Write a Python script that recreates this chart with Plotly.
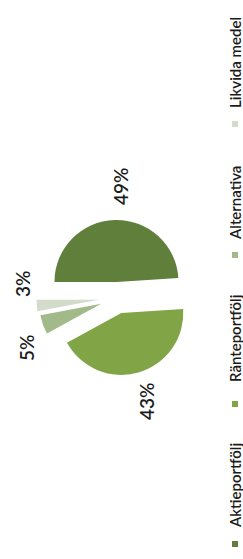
import plotly.graph_objects as go

# ---- data ----
categories = ["Aktieportfölj", "Ränteportfölj", "Alternativa", "Likvida medel"]
values = [49, 43, 5, 3]
pct_labels = [f"{v}%" for v in values]

# ---- styling ----
colors = ["#5f7f3b", "#80a446", "#a2b98a", "#d3dccb"]
pulls = [0.26, 0.25, 0.27, 0.30]

W, H = 243, 559
CX, CY, R = 117, 298, 62
half = R * (1 + max(pulls))


def px(x):
    return x / W


def py(y):
    return 1 - y / H


fig = go.Figure()
fig.add_trace(go.Pie(
    labels=categories,
    values=values,
    sort=False,
    direction="clockwise",
    rotation=270,
    pull=pulls,
    marker=dict(colors=colors, line=dict(width=0)),
    textinfo="none",
    hoverinfo="label+percent",
    showlegend=False,
    domain=dict(x=[px(CX - half), px(CX + half)], y=[py(CY + half), py(CY - half)]),
))

# percent labels (rotated, as in the picture)
label_pos = [(120, 187), (146, 402), (26, 348), (22, 284)]
for (x, y), t in zip(label_pos, pct_labels):
    fig.add_annotation(x=px(x), y=py(y), xref="paper", yref="paper", text=t,
                       textangle=-90, showarrow=False, xanchor="center", yanchor="middle",
                       font=dict(family="Lato", size=19, color="#1b1b1b", weight=600))

# legend (rotated)
legend_text_pos = [(235, 486), (235, 339), (235, 203), (235, 63)]
legend_mark_pos = [(235, 544), (235, 404), (235, 255), (235, 124)]
for (x, y), (mx, my), name, c in zip(legend_text_pos, legend_mark_pos, categories, colors):
    fig.add_annotation(x=px(x), y=py(y), xref="paper", yref="paper", text=name,
                       textangle=-90, showarrow=False, xanchor="center", yanchor="middle",
                       font=dict(family="Lato", size=15, color="#1b1b1b", weight=600))
    fig.add_shape(type="rect", xref="paper", yref="paper",
                  x0=px(mx - 3), x1=px(mx + 3), y0=py(my + 3), y1=py(my - 3),
                  fillcolor=c, line=dict(width=0))

fig.update_layout(width=W, height=H, margin=dict(l=0, r=0, t=0, b=0),
                  paper_bgcolor="white", plot_bgcolor="white")
fig.write_html("out.html", config={"displayModeBar": False})

# remove the browser's default page margin so the figure fills the window
with open("out.html", encoding="utf-8") as f:
    html = f.read()
html = html.replace("<body>", '<body style="margin:0;overflow:hidden">', 1)
with open("out.html", "w", encoding="utf-8") as f:
    f.write(html)
